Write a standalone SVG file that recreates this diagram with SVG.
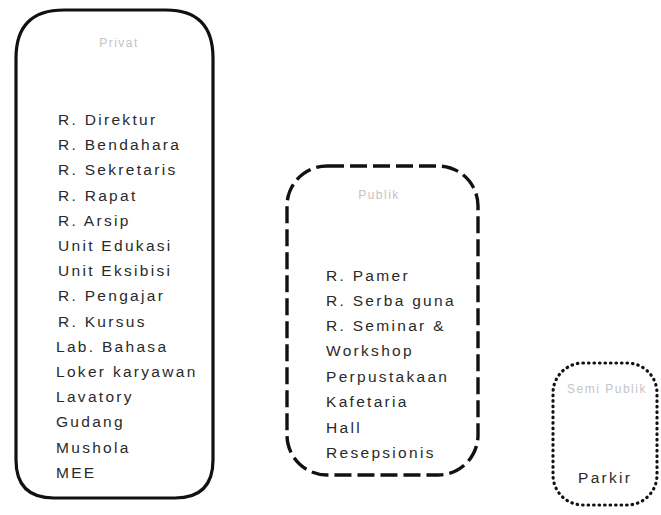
<svg xmlns="http://www.w3.org/2000/svg" width="661" height="515" viewBox="0 0 661 515">
<style>
.lbl{font-family:"Liberation Sans",Arial,sans-serif;font-size:15.5px;letter-spacing:2.3px;fill:#2a2a2a;}
.ttl{font-family:"Liberation Sans",Arial,sans-serif;font-size:12px;letter-spacing:1.5px;fill:#c4c4c4;text-anchor:middle;}
.zone{fill:none;stroke:#111;}
</style>
<rect width="661" height="515" fill="#fff"/>
<g id="zone-privat">
<path class="zone" stroke-width="3.2" d="M64 10 H166 Q213 10 213 58 V460 Q213 498 175 498 H54 Q16 498 16 460 V58 Q16 10 64 10 Z"/>
<text class="ttl" x="119" y="47">Privat</text>
<text class="lbl" x="58" y="125">R. Direktur</text>
<text class="lbl" x="58" y="150.2">R. Bendahara</text>
<text class="lbl" x="58" y="175.4">R. Sekretaris</text>
<text class="lbl" x="58" y="200.6">R. Rapat</text>
<text class="lbl" x="58" y="225.8">R. Arsip</text>
<text class="lbl" x="58" y="251">Unit Edukasi</text>
<text class="lbl" x="58" y="276.2">Unit Eksibisi</text>
<text class="lbl" x="58" y="301.4">R. Pengajar</text>
<text class="lbl" x="58" y="326.6">R. Kursus</text>
<text class="lbl" x="56" y="351.8">Lab. Bahasa</text>
<text class="lbl" x="56" y="377">Loker karyawan</text>
<text class="lbl" x="56" y="402.2">Lavatory</text>
<text class="lbl" x="56" y="427.4">Gudang</text>
<text class="lbl" x="56" y="452.6">Mushola</text>
<text class="lbl" x="56" y="477.8">MEE</text>
</g>
<g id="zone-publik">
<rect class="zone" x="287" y="166" width="191" height="309" rx="40" ry="40" stroke-width="3.4" stroke-dasharray="17 6"/>
<text class="ttl" x="379" y="199">Publik</text>
<text class="lbl" x="326" y="281">R. Pamer</text>
<text class="lbl" x="326" y="306">R. Serba guna</text>
<text class="lbl" x="326" y="331">R. Seminar &amp;</text>
<text class="lbl" x="326" y="356.4">Workshop</text>
<text class="lbl" x="326" y="381.8">Perpustakaan</text>
<text class="lbl" x="326" y="407.2">Kafetaria</text>
<text class="lbl" x="326" y="432.6">Hall</text>
<text class="lbl" x="326" y="458">Resepsionis</text>
</g>
<g id="zone-semipublik">
<rect class="zone" x="553" y="363" width="104" height="142" rx="30" ry="30" stroke-width="3.2" stroke-dasharray="0.5 5" stroke-linecap="round"/>
<text class="ttl" x="607" y="393">Semi Publik</text>
<text class="lbl" x="578" y="483">Parkir</text>
</g>
<g id="connectors"></g>
</svg>
